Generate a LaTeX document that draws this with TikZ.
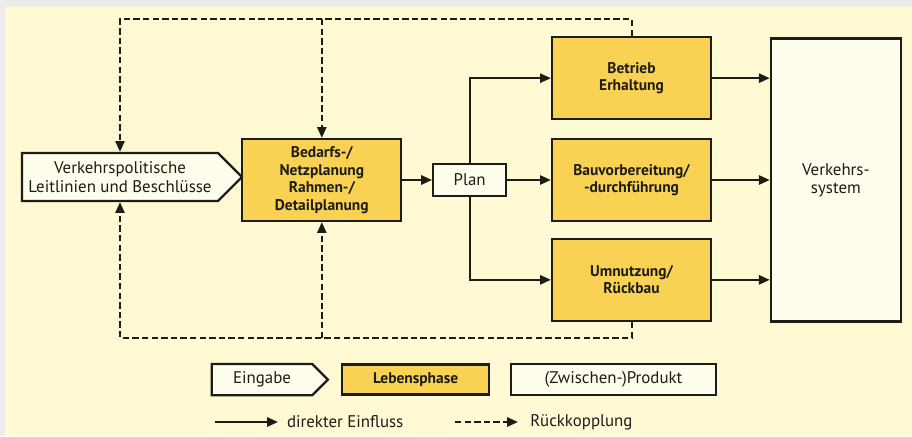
\documentclass[tikz,border=0pt]{standalone}
\usepackage{fontspec}
\setmainfont{PT Sans}
\usetikzlibrary{shapes.symbols, arrows.meta, positioning, calc}
\definecolor{phaseyellow}{RGB}{249, 210, 84}
\definecolor{bgcream}{RGB}{255, 250, 212}
\definecolor{boxcream}{RGB}{255, 253, 236}
\definecolor{edgegray}{RGB}{236, 236, 234}
\definecolor{inkblack}{RGB}{28, 28, 24}

\begin{document}
\begin{tikzpicture}[
    node distance=0.44cm and 1.1cm,
    font=\fontsize{12}{13}\selectfont,
    box/.style={rectangle, draw=inkblack, line width=1.6pt, align=center, text=inkblack, inner sep=2pt},
    phasebox/.style={box, fill=phaseyellow, font=\fontsize{11}{12.4}\selectfont\bfseries, minimum width=3.975cm, minimum height=2.05cm},
    prodbox/.style={box, fill=boxcream},
    inbox/.style={box, shape=signal, signal to=east, signal pointer angle=90, fill=boxcream},
    arrow/.style={-{Triangle[length=2.7mm, width=2.3mm]}, line width=1.4pt, draw=inkblack},
    dasharrow/.style={arrow, dash pattern=on 1.6mm off 0.8mm}
]

% Background
\useasboundingbox (0,0) rectangle (22.8,-10.9);
\fill[edgegray] (0,0) rectangle (22.8,-10.9);
\fill[bgcream] (0.13,-0.18) rectangle (22.8,-10.9);

% Input and planning
\node[inbox, minimum width=5.5cm, minimum height=1.2cm] (policy) at (3.0,-4.425) {Verkehrspolitische\\Leitlinien und Beschlüsse};
\node[phasebox, right=-0.06cm of policy, yshift=-0.075cm] (bedarfs) {Bedarfs-/\\Netzplanung\\Rahmen-/\\Detailplanung};
\node[prodbox, right=0.74cm of bedarfs, minimum width=1.825cm, minimum height=0.8cm] (plan) {Plan};

% Life phases
\node[phasebox, right=1.09cm of plan] (bau) {Bauvorbereitung/\\-durchführung};
\node[phasebox, above=0.44cm of bau] (betrieb) {Betrieb\\Erhaltung};
\node[phasebox, below=0.39cm of bau] (umnutz) {Umnutzung/\\Rückbau};

% Result
\node[prodbox, right=1.44cm of bau, minimum width=3.25cm, minimum height=7.075cm] (vs) {Verkehrs-\\system};

% Arrows
\draw[arrow] (bedarfs) -- (plan);
\draw[arrow] (plan) -- (bau);
\draw[arrow] (plan.north) |- (betrieb);
\draw[arrow] (plan.south) |- (umnutz);
\draw[arrow] (betrieb.east) -- (betrieb.east -| vs.west);
\draw[arrow] (bau) -- (vs);
\draw[arrow] (umnutz.east) -- (umnutz.east -| vs.west);

% Feedback loops
\coordinate[above=0.425cm of betrieb.north] (fbtop);
\coordinate[below=0.4cm of umnutz.south] (fbbot);
\draw[dasharrow] (betrieb.north) -- (fbtop) -| (policy.north);
\draw[dasharrow] (bedarfs.north |- fbtop) -- (bedarfs.north);
\draw[dasharrow] (umnutz.south) -- (fbbot) -| (policy.south);
\draw[dasharrow] (bedarfs.south |- fbbot) -- (bedarfs.south);

% Legend
\node[inbox, minimum width=2.9cm, minimum height=0.78cm] (legin) at (6.55,-9.49) {Eingabe};
\node[phasebox, minimum width=3.675cm, minimum height=0.75cm, right=0.29cm of legin] (legphase) {Lebensphase};
\node[prodbox, minimum width=5.125cm, minimum height=0.78cm, right=0.49cm of legphase] (legprod) {(Zwischen-)Produkt};

\coordinate (solidA) at (5.375,-10.55);
\coordinate (solidB) at (6.95,-10.55);
\draw[arrow] (solidA) -- (solidB);
\node[right=0.22cm of solidB, inner sep=0pt, text=inkblack] (solidlbl) {direkter Einfluss};
\coordinate (dashA) at (11.375,-10.55);
\coordinate (dashB) at (12.95,-10.55);
\draw[dasharrow] (dashA) -- (dashB);
\node[right=0.3cm of dashB, inner sep=0pt, text=inkblack] (dashlbl) {Rückkopplung};

\end{tikzpicture}
\end{document}
